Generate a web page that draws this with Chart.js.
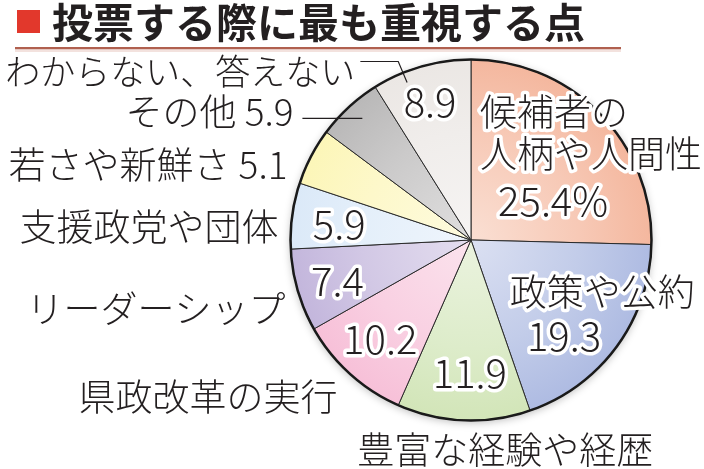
<!DOCTYPE html>
<html>
<head>
<meta charset="utf-8">
<script src="https://cdn.jsdelivr.net/npm/chart.js@4.4.0/dist/chart.umd.min.js"></script>
<style>
  html, body { margin: 0; padding: 0; background: #fff; }
  canvas { display: block; }
</style>
</head>
<body>
<canvas id="display1" width="704" height="469"></canvas>
<script>
  // データ
  var title = '投票する際に最も重視する点';
  var categories = [
    '候補者の人柄や人間性', '政策や公約', '豊富な経験や経歴', '県政改革の実行',
    'リーダーシップ', '支援政党や団体', '若さや新鮮さ', 'その他', 'わからない、答えない'
  ];
  var values = [25.4, 19.3, 11.9, 10.2, 7.4, 5.9, 5.1, 5.9, 8.9];
  var colors = ['#f4b79e', '#aebbe2', '#d2e5b8', '#f7c0d8', '#c3b6dc', '#dbe9f8', '#fcf6b8', '#b9b8b8', '#ebe7e4'];

  (function() {
    'use strict';

    var FONT = '"Noto Sans CJK JP", "Noto Sans", sans-serif';
    var INK = '#231f20';

    // 円グラフの中の文字 (fx, fy は半径を1とした中心からの位置)
    var inside = [
      { text: '候補者の', fx: 0.05, fy: -0.71, align: 'left', size: 37 },
      { text: '人柄や人間性', fx: 0.05, fy: -0.475, align: 'left', size: 37 },
      { text: values[0].toFixed(1) + '%', fx: 0.15, fy: -0.215, align: 'left', size: 40 },
      { text: '政策や公約', fx: 0.215, fy: 0.29, align: 'left', size: 37 },
      { text: values[1].toFixed(1), fx: 0.31, fy: 0.53, align: 'left', size: 40 },
      { text: values[2].toFixed(1), fx: -0.006, fy: 0.735, align: 'center', size: 40 },
      { text: values[3].toFixed(1), fx: -0.503, fy: 0.545, align: 'center', size: 40 },
      { text: values[4].toFixed(1), fx: -0.74, fy: 0.225, align: 'center', size: 40 },
      { text: values[5].toFixed(1), fx: -0.73, fy: -0.09, align: 'center', size: 40 },
      { text: values[8].toFixed(1), fx: -0.227, fy: -0.765, align: 'center', size: 40 }
    ];

    // 円グラフの外の文字
    var outside = [
      { text: categories[8], fx: -0.641, fy: -0.934, align: 'right', size: 35 },
      { text: categories[7] + ' ' + values[7].toFixed(1), fx: -0.983, fy: -0.707, align: 'right', size: 37 },
      { text: categories[6] + ' ' + values[6].toFixed(1), fx: -1.017, fy: -0.415, align: 'right', size: 37 },
      { text: categories[5], fx: -1.066, fy: -0.072, align: 'right', size: 37 },
      { text: categories[4], fx: -1.028, fy: 0.38, align: 'right', size: 37 },
      { text: categories[3], fx: -0.740, fy: 0.867, align: 'right', size: 37 },
      { text: categories[2], fx: -0.630, fy: 1.162, align: 'left', size: 37 }
    ];

    // 引き出し線
    var leaders = [
      [[-0.613, -0.989], [-0.403, -0.989], [-0.354, -0.873]],
      [[-0.934, -0.674], [-0.602, -0.674]]
    ];

    function lighten(hex, t) {
      var n = parseInt(hex.slice(1), 16);
      var r = n >> 16, g = (n >> 8) & 255, b = n & 255;
      r = Math.round(r + (255 - r) * t);
      g = Math.round(g + (255 - g) * t);
      b = Math.round(b + (255 - b) * t);
      return 'rgb(' + r + ',' + g + ',' + b + ')';
    }

    function sliceColor(ctx) {
      var chart = ctx.chart;
      var area = chart.chartArea;
      var base = colors[ctx.dataIndex];
      if (!area) return base;
      var cx = (area.left + area.right) / 2;
      var cy = (area.top + area.bottom) / 2;
      var r = Math.min(area.right - area.left, area.bottom - area.top) / 2;
      var g = chart.ctx.createRadialGradient(cx, cy, 0, cx, cy, r);
      g.addColorStop(0, lighten(base, 0.55));
      g.addColorStop(0.6, lighten(base, 0.25));
      g.addColorStop(1, base);
      return g;
    }

    function haloText(c, text, x, y, size, align) {
      c.font = '300 ' + size + 'px ' + FONT;
      c.textAlign = align;
      c.textBaseline = 'middle';
      c.lineJoin = 'round';
      c.strokeStyle = '#fff';
      c.lineWidth = 7;
      c.strokeText(text, x, y);
      c.fillStyle = INK;
      c.fillText(text, x, y);
    }

    var decorations = {
      id: 'decorations',
      beforeDatasetsDraw: function(chart) {
        var arc = chart.getDatasetMeta(0).data[0];
        var c = chart.ctx;
        c.save();
        c.beginPath();
        c.arc(arc.x, arc.y, arc.outerRadius, 0, Math.PI * 2);
        c.fillStyle = '#fff';
        c.shadowColor = 'rgba(0,0,0,0.28)';
        c.shadowBlur = 8;
        c.shadowOffsetY = 2;
        c.fill();
        c.restore();
      },
      afterDatasetsDraw: function(chart) {
        var arc = chart.getDatasetMeta(0).data[0];
        var cx = arc.x, cy = arc.y, r = arc.outerRadius;
        var c = chart.ctx;
        c.save();

        // 外枠
        c.beginPath();
        c.arc(cx, cy, r, 0, Math.PI * 2);
        c.lineWidth = 2.5;
        c.strokeStyle = '#1a1a1a';
        c.stroke();

        // タイトル
        c.fillStyle = '#e2382c';
        c.fillRect(17, 10, 23, 23);
        c.font = 'bold 41px ' + FONT;
        c.textAlign = 'left';
        c.textBaseline = 'middle';
        c.fillStyle = INK;
        c.fillText(title, 52, 22);
        c.fillStyle = '#f3e2de';
        c.fillRect(15, 49, 606, 3);
        c.fillStyle = '#b0604f';
        c.fillRect(15, 47, 606, 2.2);

        // 引き出し線
        c.strokeStyle = INK;
        c.lineWidth = 1.2;
        leaders.forEach(function(pts) {
          c.beginPath();
          pts.forEach(function(p, k) {
            var x = cx + p[0] * r, y = cy + p[1] * r;
            if (k === 0) c.moveTo(x, y); else c.lineTo(x, y);
          });
          c.stroke();
        });

        // 外の文字
        outside.forEach(function(o) {
          c.font = '300 ' + o.size + 'px ' + FONT;
          c.textAlign = o.align;
          c.textBaseline = 'middle';
          c.fillStyle = INK;
          c.fillText(o.text, cx + o.fx * r, cy + o.fy * r);
        });

        // 中の文字
        inside.forEach(function(o) {
          haloText(c, o.text, cx + o.fx * r, cy + o.fy * r, o.size, o.align);
        });

        c.restore();
      }
    };

    var ctx = document.getElementById('display1').getContext('2d');

    var myChart = new Chart(ctx, {
      type: 'pie',
      data: {
        labels: categories,
        datasets: [{
          data: values,
          backgroundColor: sliceColor,
          borderColor: '#2a2a2a',
          borderWidth: 1,
          hoverOffset: 0,
          offset: 0
        }]
      },
      options: {
        responsive: false,
        animation: false,
        events: [],
        layout: { padding: { left: 290, right: 52, top: 59, bottom: 48 } },
        plugins: {
          legend: { display: false },
          tooltip: { enabled: false }
        }
      },
      plugins: [decorations]
    });
  })();
</script>
</body>
</html>
